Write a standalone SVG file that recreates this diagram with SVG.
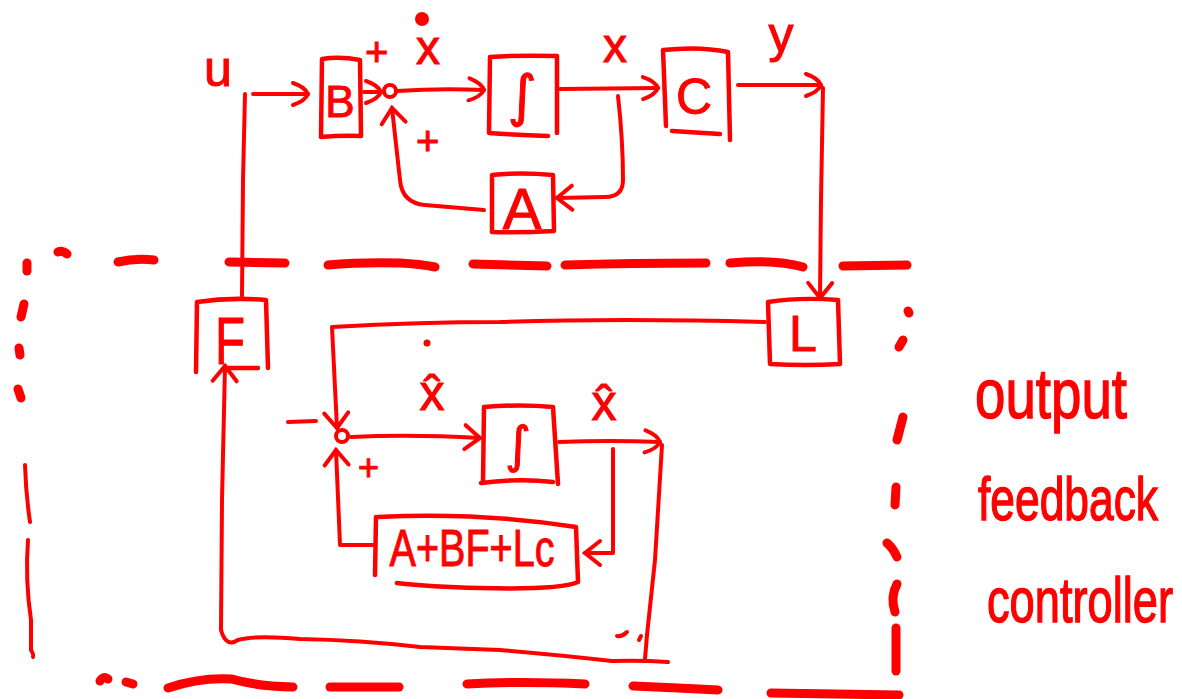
<svg xmlns="http://www.w3.org/2000/svg" width="1182" height="699" viewBox="0 0 1182 699">
<style>
.w{fill:none;stroke:#ff0000;stroke-width:4;stroke-linecap:round;stroke-linejoin:round}
.b{fill:none;stroke:#ff0000;stroke-width:4.5;stroke-linecap:round;stroke-linejoin:round}
.d{fill:none;stroke:#ff0000;stroke-width:9;stroke-linecap:round;stroke-linejoin:round}
.dt{fill:none;stroke:#ff0000;stroke-width:4;stroke-linecap:round}
text{fill:#ff0000;stroke:#ff0000;stroke-width:1;font-family:"Liberation Sans",Arial,sans-serif}
.lb{font-size:50px}
.pl{font-size:40px}
.sym{font-family:"DejaVu Sans",sans-serif}
</style>
<defs>
<marker id="ah" markerUnits="userSpaceOnUse" markerWidth="30" markerHeight="30" viewBox="-20 -15 24 30" refX="0" refY="0" orient="auto">
<path d="M-15,-11 Q-3,-7 0,0 Q-3,7 -15,11" fill="none" stroke="#ff0000" stroke-width="4" stroke-linecap="round"/>
</marker>
<marker id="av" markerUnits="userSpaceOnUse" markerWidth="30" markerHeight="30" viewBox="-20 -15 24 30" refX="0" refY="0" orient="auto">
<path d="M-15,-12 L0,0 L-15,12" fill="none" stroke="#ff0000" stroke-width="4" stroke-linecap="round"/>
</marker>
</defs>

<g id="border">
<path class="d" d="M118,262 Q135,258 154,260"/>
<path class="d" d="M229,262 L285,263"/>
<path class="d" d="M328,265 Q360,262 400,263 Q420,264 435,267"/>
<path class="d" d="M473,264 L547,266"/>
<path class="d" d="M565,265 Q630,263 706,263"/>
<path class="d" d="M730,263 Q775,259 803,267"/>
<path class="d" d="M843,266 L907,265"/>
<path class="d" d="M58,252 Q62,250 67,254"/>
<path class="d" d="M27,263 L27,271"/>
<path class="d" d="M24,304 L21,317"/>
<path class="d" d="M19,348 L20,355"/>
<path class="d" d="M18,389 L21,398"/>
<path class="dt" d="M25,465 Q26,495 30,522"/>
<path class="dt" d="M28,540 Q25,580 31,620 L31,650 Q34,655 33,657"/>
<path class="d" d="M100,681 Q104,675 108,679"/>
<path class="d" d="M126,682 L133,684"/>
<path class="d" d="M168,688 Q200,677 232,679 Q255,686 293,687"/>
<path class="d" d="M330,687 L399,687"/>
<path class="d" d="M467,684 Q520,681 585,684"/>
<path class="d" d="M633,686 Q680,688 718,690"/>
<path class="d" d="M771,693 L899,695"/>
<path class="d" d="M908,311 L909,313"/>
<path class="d" d="M899,347 L903,340"/>
<path class="d" d="M903,417 L897,440"/>
<path class="d" d="M896,487 L895,505"/>
<path class="d" d="M887,543 Q893,548 897,557"/>
<path class="d" d="M897,584 Q890,597 895,612"/>
<path class="d" d="M896,628 L896,671"/>
</g>

<g id="connectors">
<path class="w" d="M242,296 L243,180 L245,94 M253,94 L308,94" marker-end="url(#ah)"/>
<path class="w" d="M364,92 L381,92" marker-end="url(#ah)"/>
<path class="w" d="M397,91 Q440,88 484,90" marker-end="url(#ah)"/>
<path class="w" d="M560,89 L658,88" marker-end="url(#ah)"/>
<path class="w" d="M738,85 L821,85" marker-end="url(#ah)"/>
<path class="w" d="M823,88 L821,200 L820,298" marker-end="url(#av)"/>
<path class="w" d="M618,96 Q623,140 623,180 Q623,197 605,197 L557,198" marker-end="url(#av)"/>
<path class="w" d="M484,210 L425,205 Q402,203 400,180 L392,108" marker-end="url(#av)"/>
<path class="w" d="M765,322 Q620,318 500,322 Q420,322 332,327 L337,428" marker-end="url(#av)"/>
<path class="w" d="M351,437 Q410,434 480,438" marker-end="url(#av)"/>
<path class="w" d="M559,442 Q610,440 660,442" marker-end="url(#ah)"/>
<path class="w" d="M662,445 L655,560 L647,635 L645,659"/>
<path class="w" d="M668,662 Q640,660 612,661 Q560,655 500,650 L420,647 Q360,640 300,639 Q255,635 238,640 Q226,648 221,630 L222,500 L225,366" marker-end="url(#av)"/>
<path class="w" d="M613,449 L613,553 L585,553" marker-end="url(#av)"/>
<path class="w" d="M373,545 L340,545 L336,450" marker-end="url(#av)"/>
<path class="dt" d="M617,636 Q622,637 627,632"/>
<path class="dt" d="M639,640 L641,636"/>
</g>

<g id="sum1">
<circle cx="390" cy="91" r="6" class="w"/>
<text x="365" y="66" class="pl">+</text>
<text x="416" y="155" class="pl">+</text>
</g>

<g id="B">
<path class="b" d="M322,59 Q340,56 360,60 L361,136 Q342,135 321,137 Z"/>
<text x="340" y="117" font-size="44" text-anchor="middle">B</text>
</g>

<g id="integrator1">
<path class="b" d="M490,57 Q520,55 557,56 M490,57 L489,133 Q520,135 548,136 M557,56 L557,133"/>
<text x="522" y="115" font-size="56" text-anchor="middle" class="sym">∫</text>
</g>

<g id="C">
<path class="b" d="M663,50 Q700,46 728,52 L730,140 M663,50 L666,126 M672,131 L720,134"/>
<text x="694" y="114" font-size="50" text-anchor="middle">C</text>
</g>

<g id="A">
<path class="b" d="M492,175 Q520,172 553,175 L554,231 Q520,233 492,232 Z"/>
<text x="522" y="229" font-size="58" text-anchor="middle">A</text>
</g>

<g id="F">
<path class="b" d="M197,302 Q230,297 266,300 L268,368 M197,302 L196,372 M226,368 L258,368"/>
<text x="230" y="364" font-size="66" text-anchor="middle" textLength="30" lengthAdjust="spacingAndGlyphs">F</text>
</g>

<g id="L">
<path class="b" d="M768,302 Q800,297 838,300 L840,364 Q805,366 770,364 Z"/>
<text x="803" y="351" font-size="50" text-anchor="middle">L</text>
</g>

<g id="sum2">
<circle cx="342" cy="436" r="6" class="w"/>
<path class="w" d="M288,422 L316,421"/>
<text x="358" y="480" font-size="36">+</text>
</g>

<g id="integrator2">
<path class="b" d="M484,407 Q520,404 553,407 L558,484 M484,407 L483,482 M481,483 Q520,478 553,482"/>
<text x="518" y="462" font-size="50" text-anchor="middle" class="sym">∫</text>
</g>

<g id="ABFLC">
<path class="b" d="M376,517 L375,575 M378,517 Q480,512 576,527 L578,582 Q560,590 480,588 Q430,587 397,583"/>
<text x="472" y="566" font-size="52" text-anchor="middle" textLength="165" lengthAdjust="spacingAndGlyphs">A+BF+Lc</text>
</g>

<g id="labels">
<text x="218" y="86" class="lb" text-anchor="middle">u</text>
<text x="428" y="64" font-size="48" text-anchor="middle">x</text>
<circle cx="422" cy="19" r="7" fill="#ff0000"/>
<text x="615" y="62" font-size="48" text-anchor="middle">x</text>
<text x="781" y="52" font-size="50" text-anchor="middle">y</text>
<text x="432" y="410" font-size="50" text-anchor="middle">x̂</text>
<circle cx="427" cy="343" r="3.5" fill="#ff0000"/>
<text x="604" y="420" font-size="50" text-anchor="middle">x̂</text>
</g>

<g id="caption">
<text transform="translate(975,418) scale(1,1.4)" font-size="50" textLength="152" lengthAdjust="spacingAndGlyphs">output</text>
<text transform="translate(978,520) scale(1,1.4)" font-size="44" textLength="180" lengthAdjust="spacingAndGlyphs">feedback</text>
<text transform="translate(987,622) scale(1,1.4)" font-size="45" textLength="186" lengthAdjust="spacingAndGlyphs">controller</text>
</g>
</svg>
